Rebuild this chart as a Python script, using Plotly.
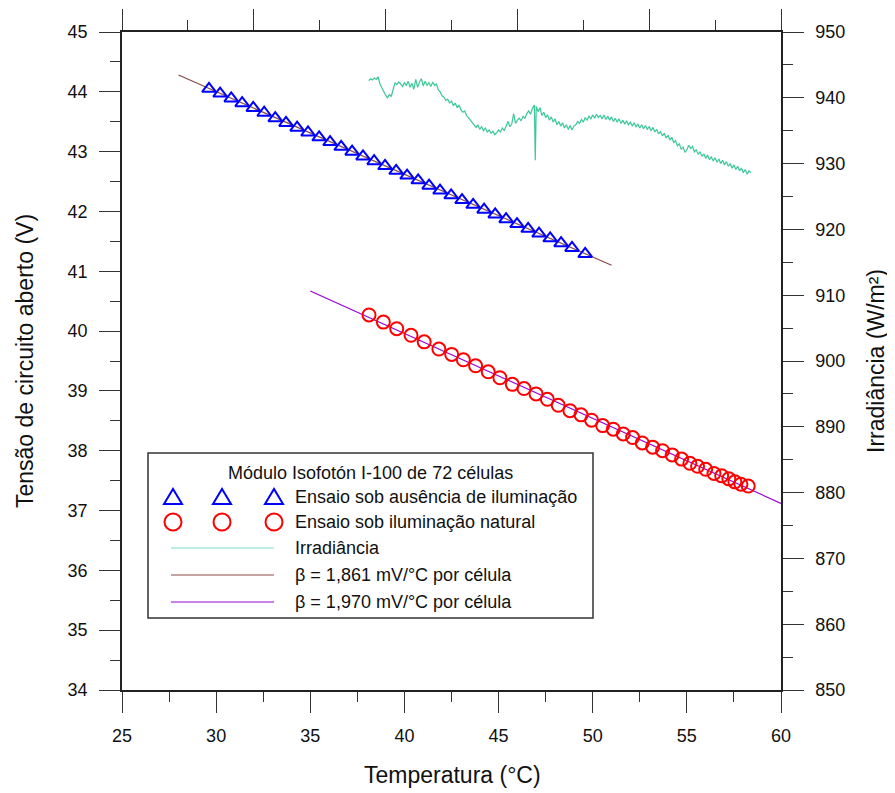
import plotly.graph_objects as go

# ensaio sob ausencia de iluminacao (triangulos)
temp_escuro = [29.62, 30.21, 30.80, 31.38, 31.97, 32.55, 33.14, 33.71, 34.30, 34.88,
               35.47, 36.05, 36.64, 37.22, 37.80, 38.39, 38.97, 39.56, 40.14, 40.73,
               41.31, 41.89, 42.48, 43.06, 43.65, 44.23, 44.82, 45.40, 45.98, 46.57,
               47.15, 47.74, 48.32, 48.90, 49.60]
voc_escuro = [44.05, 43.97, 43.89, 43.81, 43.73, 43.65, 43.56, 43.48, 43.40, 43.32,
              43.24, 43.16, 43.08, 43.00, 42.92, 42.84, 42.76, 42.68, 42.60, 42.52,
              42.43, 42.35, 42.27, 42.19, 42.11, 42.03, 41.95, 41.87, 41.79, 41.71,
              41.63, 41.55, 41.47, 41.39, 41.29]

# ensaio sob iluminacao natural (circulos)
temp_sol = [38.12, 38.88, 39.59, 40.35, 41.05, 41.83, 42.51, 43.13, 43.78, 44.45,
            45.07, 45.73, 46.35, 46.99, 47.59, 48.17, 48.79, 49.38, 49.94, 50.53,
            51.09, 51.62, 52.12, 52.63, 53.18, 53.71, 54.22, 54.72, 55.16, 55.57,
            56.00, 56.44, 56.85, 57.23, 57.55, 57.87, 58.26]
voc_sol = [40.27, 40.15, 40.04, 39.93, 39.82, 39.70, 39.61, 39.52, 39.42, 39.32,
           39.22, 39.11, 39.04, 38.95, 38.86, 38.76, 38.67, 38.60, 38.51, 38.42,
           38.36, 38.28, 38.22, 38.13, 38.06, 38.00, 37.93, 37.86, 37.79, 37.74,
           37.69, 37.62, 37.58, 37.53, 37.48, 37.44, 37.41]

# retas de ajuste
temp_fit1 = [28.0, 51.0]
voc_fit1 = [44.28, 41.10]
temp_fit2 = [35.0, 60.0]
voc_fit2 = [40.67, 37.12]

# irradiancia (eixo direito)
temp_irr = [38.1, 38.2, 38.3, 38.4, 38.5, 38.6, 38.7, 38.8, 38.9, 39.0,
            39.1, 39.2, 39.3, 39.4, 39.5, 39.6, 39.7, 39.8, 39.9, 40.0,
            40.1, 40.2, 40.3, 40.4, 40.5, 40.6, 40.7, 40.8, 40.9, 41.0,
            41.1, 41.2, 41.3, 41.4, 41.5, 41.6, 41.7, 41.8, 41.9, 42.0,
            42.1, 42.2, 42.3, 42.4, 42.5, 42.6, 42.7, 42.8, 42.9, 43.0,
            43.1, 43.2, 43.3, 43.4, 43.5, 43.6, 43.7, 43.8, 43.9, 44.0,
            44.1, 44.2, 44.3, 44.4, 44.5, 44.6, 44.7, 44.8, 44.9, 45.0,
            45.1, 45.2, 45.3, 45.4, 45.5, 45.6, 45.7, 45.8, 45.9, 46.0,
            46.1, 46.2, 46.3, 46.4, 46.5, 46.6, 46.7, 46.8, 46.9, 46.95,
            47.0, 47.1, 47.2, 47.3, 47.4, 47.5, 47.6, 47.7, 47.8, 47.9,
            48.0, 48.1, 48.2, 48.3, 48.4, 48.5, 48.6, 48.7, 48.8, 48.9,
            49.0, 49.1, 49.2, 49.3, 49.4, 49.5, 49.6, 49.7, 49.8, 49.9,
            50.0, 50.1, 50.2, 50.3, 50.4, 50.5, 50.6, 50.7, 50.8, 50.9,
            51.0, 51.1, 51.2, 51.3, 51.4, 51.5, 51.6, 51.7, 51.8, 51.9,
            52.0, 52.1, 52.2, 52.3, 52.4, 52.5, 52.6, 52.7, 52.8, 52.9,
            53.0, 53.1, 53.2, 53.3, 53.4, 53.5, 53.6, 53.7, 53.8, 53.9,
            54.0, 54.1, 54.2, 54.3, 54.4, 54.5, 54.6, 54.7, 54.8, 54.9,
            55.0, 55.1, 55.2, 55.3, 55.4, 55.5, 55.6, 55.7, 55.8, 55.9,
            56.0, 56.1, 56.2, 56.3, 56.4, 56.5, 56.6, 56.7, 56.8, 56.9,
            57.0, 57.1, 57.2, 57.3, 57.4, 57.5, 57.6, 57.7, 57.8, 57.9,
            58.0, 58.1, 58.2, 58.3, 58.4]
irr = [942.6, 942.9, 942.7, 943.0, 942.8, 943.2, 942.1, 941.5, 941.0, 940.4,
       940.0, 940.5, 940.2, 941.4, 942.3, 942.0, 942.4, 942.1, 941.7, 942.3,
       941.9, 942.5, 941.6, 942.2, 941.3, 942.8, 941.6, 942.4, 942.9, 941.8,
       942.5, 941.9, 942.3, 941.7, 942.4, 941.9, 942.1, 941.2, 940.9, 940.3,
       940.1, 939.6, 939.8, 939.2, 939.5, 938.8, 939.2, 938.5, 938.9, 938.2,
       937.8, 938.0, 937.3, 937.0, 936.6, 936.2, 935.8, 935.5, 935.9, 935.2,
       935.6, 935.0, 935.4, 934.8, 935.1, 934.6, 934.9, 934.4, 934.7, 935.1,
       934.8, 935.4, 935.0, 935.7, 936.4, 935.6, 936.0, 937.6, 936.1, 936.6,
       936.9, 936.5, 937.2, 936.9, 937.6, 938.0, 937.5, 938.4, 938.9, 930.5,
       938.7, 937.9, 938.5, 937.3, 937.8, 937.0, 937.4, 936.6, 937.1, 936.3,
       936.8, 935.9, 936.4, 935.7, 936.2, 935.4, 935.9, 935.2, 935.8, 935.1,
       935.7, 935.9, 936.4, 936.1, 936.7, 936.3, 937.0, 936.6, 937.2, 936.8,
       937.4, 936.9, 937.5, 937.0, 937.3, 936.8, 937.4, 936.7, 937.2, 936.6,
       937.1, 936.4, 936.9, 936.3, 936.8, 936.1, 936.6, 936.0, 936.5, 935.9,
       936.3, 935.7, 936.2, 935.6, 936.0, 935.4, 935.9, 935.3, 935.8, 935.2,
       935.6, 935.0, 935.5, 934.8, 935.2, 934.5, 934.9, 934.2, 934.6, 933.9,
       934.3, 933.6, 934.0, 933.2, 933.5, 932.7, 933.0, 932.2, 932.5, 931.7,
       932.1, 932.8, 932.3, 932.6, 931.8, 932.1, 931.4, 931.8, 931.1, 931.5,
       930.8, 931.3, 930.6, 931.0, 930.4, 930.9, 930.2, 930.7, 930.0, 930.5,
       929.8, 930.3, 929.6, 930.0, 929.3, 929.8, 929.1, 929.6, 928.9, 929.3,
       928.6, 929.1, 928.4, 928.9, 928.6]

# textos da legenda
leg_titulo = "Módulo Isofotón I-100 de 72 células"
leg_textos = ["Ensaio sob ausência de iluminação", "Ensaio sob iluminação natural",
              "Irradiância", "β = 1,861 mV/°C por célula", "β = 1,970 mV/°C por célula"]

AZUL = "#0000ff"
VERMELHO = "#ff0000"
VERDE = "#3cc896"
VERDE_LEG = "#7fe0c8"
MARROM = "#8b4a4a"
ROXO = "#9900d6"
FONTE = "Liberation Sans, Arial, sans-serif"

# area de plotagem em pixels da pagina (o body tem 8 px de margem)
L, R, T, B = 122, 781, 32, 690
OFF = 8
W, H = 895 - OFF, 793 - OFF


def px(x):
    return (x - L) / (R - L)


def py(y):
    return (B - y) / (B - T)


fig = go.Figure()

fig.add_trace(go.Scatter(x=temp_fit1, y=voc_fit1, mode="lines",
                         line=dict(color=MARROM, width=1.2), showlegend=False))
fig.add_trace(go.Scatter(x=temp_fit2, y=voc_fit2, mode="lines",
                         line=dict(color=ROXO, width=1.2), showlegend=False))
fig.add_trace(go.Scatter(x=temp_escuro, y=voc_escuro, mode="markers",
                         marker=dict(symbol="triangle-up-open", size=12, color=AZUL,
                                     line=dict(width=2, color=AZUL)),
                         showlegend=False))
fig.add_trace(go.Scatter(x=temp_sol, y=voc_sol, mode="markers",
                         marker=dict(symbol="circle-open", size=13, color=VERMELHO,
                                     line=dict(width=2, color=VERMELHO)),
                         showlegend=False))
fig.add_trace(go.Scatter(x=temp_irr, y=irr, mode="lines", yaxis="y2",
                         line=dict(color=VERDE, width=1.2), showlegend=False))
# eixo superior (sem rotulos)
fig.add_trace(go.Scatter(x=[0, 5], y=[None, None], xaxis="x2", mode="lines",
                         showlegend=False, hoverinfo="skip"))

eixo = dict(showline=True, linecolor="#222", linewidth=1.5, showgrid=False,
            zeroline=False, ticks="outside", tickcolor="#333", tickwidth=1.2,
            ticklen=21, tickfont=dict(family=FONTE, size=18, color="#111"),
            ticklabelstandoff=8, automargin=False)

fig.update_layout(
    width=W, height=H,
    margin=dict(l=L - OFF, r=W - (R - OFF), t=T - OFF, b=H - (B - OFF),
                autoexpand=False),
    paper_bgcolor="white", plot_bgcolor="white",
    xaxis=dict(eixo, range=[25, 60], dtick=5, tick0=25,
               minor=dict(dtick=2.5, ticklen=10, ticks="outside", tickcolor="#333")),
    xaxis2=dict(eixo, range=[0, 5], dtick=1, overlaying="x", side="top",
                showticklabels=False,
                minor=dict(dtick=0.5, ticklen=10, ticks="outside", tickcolor="#333")),
    yaxis=dict(eixo, range=[34, 45], dtick=1,
               minor=dict(dtick=0.5, ticklen=10, ticks="outside", tickcolor="#333")),
    yaxis2=dict(eixo, range=[850, 950], dtick=10, overlaying="y", side="right",
                minor=dict(dtick=5, ticklen=10, ticks="outside", tickcolor="#333")),
)

# titulos dos eixos
titulo_font = dict(family=FONTE, size=23, color="#111")
fig.add_annotation(text="Tensão de circuito aberto (V)", xref="paper", yref="paper",
                   x=px(25), y=py(361), textangle=-90, showarrow=False,
                   xanchor="center", yanchor="middle", font=titulo_font)
fig.add_annotation(text="Irradiância (W/m²)", xref="paper", yref="paper",
                   x=px(876), y=py(361), textangle=-90, showarrow=False,
                   xanchor="center", yanchor="middle", font=titulo_font)
fig.add_annotation(text="Temperatura (°C)", xref="paper", yref="paper",
                   x=px(452), y=py(775), showarrow=False,
                   xanchor="center", yanchor="middle", font=titulo_font)

# legenda desenhada
fig.add_shape(type="rect", xref="paper", yref="paper",
              x0=px(148), x1=px(593), y0=py(453), y1=py(618),
              line=dict(color="#333", width=1.5), fillcolor="white", layer="above")
fig.add_annotation(text=leg_titulo, xref="paper", yref="paper",
                   x=px(370), y=py(473), showarrow=False,
                   xanchor="center", yanchor="middle",
                   font=dict(family=FONTE, size=18, color="#111"))
linhas_y = [497, 522, 548, 575, 602]
for texto, yy in zip(leg_textos, linhas_y):
    fig.add_annotation(text=texto, xref="paper", yref="paper", x=px(293), y=py(yy),
                       xanchor="left", yanchor="middle", showarrow=False,
                       font=dict(family=FONTE, size=18, color="#111"))
for cx in [173, 222, 274]:
    cy = linhas_y[0]
    caminho = "M {} {} L {} {} L {} {} Z".format(px(cx - 9), py(cy + 7), px(cx + 9),
                                               py(cy + 7), px(cx), py(cy - 8))
    fig.add_shape(type="path", xref="paper", yref="paper", path=caminho,
                  line=dict(color=AZUL, width=2), layer="above")
    cy = linhas_y[1]
    fig.add_shape(type="circle", xref="paper", yref="paper",
                  x0=px(cx - 8.5), x1=px(cx + 8.5), y0=py(cy + 8.5), y1=py(cy - 8.5),
                  line=dict(color=VERMELHO, width=2), layer="above")
for cor, yy in zip([VERDE_LEG, MARROM, ROXO], linhas_y[2:]):
    fig.add_shape(type="line", xref="paper", yref="paper",
                  x0=px(171), x1=px(274), y0=py(yy), y1=py(yy),
                  line=dict(color=cor, width=1.2), layer="above")

fig.write_html("out.html")
